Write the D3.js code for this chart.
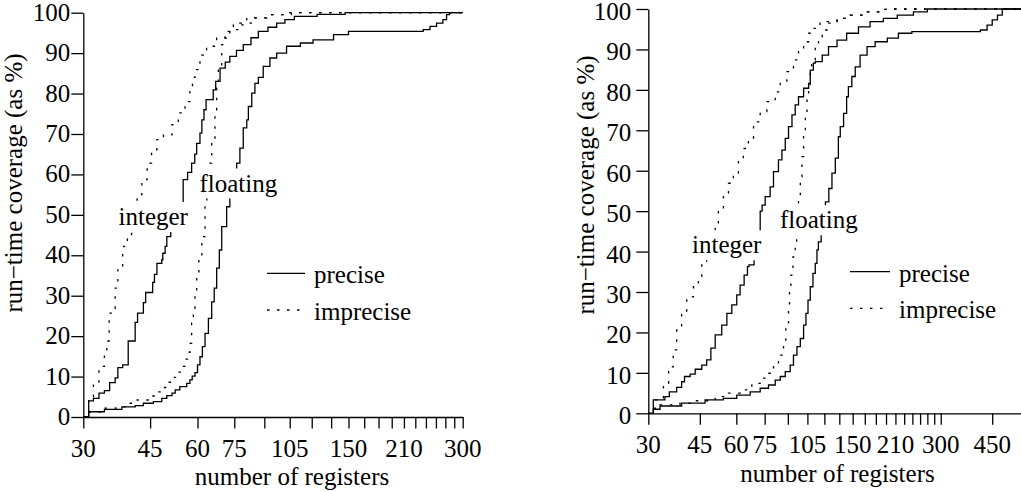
<!DOCTYPE html>
<html>
<head>
<meta charset="utf-8">
<script src="https://cdn.jsdelivr.net/npm/d3@7"></script>
</head>
<body style="margin:0">
<svg id="chart" width="1021" height="492"></svg>
<script>
// tick marks every 15 registers, labels only on some of them
const tickValuesLeft = d3.range(30, 301, 15);
const tickValuesRight = d3.range(30, 301, 15).concat([450]);
const tickLabelsLeft = [30, 45, 60, 75, 105, 150, 210, 300];
const tickLabelsRight = [30, 45, 60, 75, 105, 150, 210, 300, 450];
const yTicks = d3.range(0, 101, 10);

// [registers, run-time coverage %]
const leftIntPrecise = [[30,0],[31,4.0],[31.9,4.6],[33,5.9],[34.1,6.5],[35.2,8.5],[36.4,9.7],[37,12.2],[38.1,12.9],[39.4,18.8],[41.1,23.4],[41.7,25.7],[43.2,28.3],[43.8,30.8],[45.7,33.3],[46.2,35.3],[46.9,38],[48.3,38.9],[48.6,40.5],[49.3,42.2],[49.8,44.6],[51,48],[52.4,52.9],[55,58.7],[56.5,60.5],[57.9,62.8],[59,65],[59.7,67.7],[60.9,70.2],[61.6,73.5],[62.4,76],[63.2,78.5],[66,80.9],[67,83],[68.8,86.3],[71,87.8],[73,89.2],[76,90.7],[79.2,92.1],[83,93.8],[86.8,95.4],[92,96.4],[97,97.4],[102,98.3],[108,99.1],[124,99.6],[147,100],[300,100]];
const leftIntImprecise = [[30,0],[31,5.0],[31.9,8.7],[33,12.5],[34.1,16.6],[34.6,18.8],[35.1,25.7],[36.2,26.9],[36.4,31.9],[37,36.4],[38.1,40.5],[38.3,42.2],[39.2,44.2],[40.2,50],[41.6,55],[42.8,58.7],[44.2,62.8],[45.4,66.1],[46.9,68.6],[48.8,69.8],[51.4,72.3],[53.4,75.2],[55.6,78],[57.3,81.4],[58.2,84],[59.1,85.9],[60.9,88.4],[61.5,89.5],[63.4,91.7],[67.4,93.7],[73,95.8],[77.5,97.4],[84.2,98.7],[91.3,99.5],[103,100],[300,100]];
const leftFloatPrecise = [[30,0],[31,1.3],[34.1,1.9],[37.9,2.5],[41.1,2.8],[43.2,3.4],[45.9,3.8],[48.3,4.6],[49.8,5.3],[51.4,5.9],[52.4,6.7],[53.9,7.5],[56.2,8.3],[57.3,9.2],[58.1,10.1],[59.1,11],[60,12.9],[60.9,14.9],[61.8,17.4],[62.8,20.7],[64.1,24.4],[65.4,28.5],[66.4,31.9],[67.4,36.8],[68.5,41.3],[69.5,47.1],[71.6,52],[73,55],[74.5,59],[76.1,62.8],[77.6,66.5],[79.2,71.5],[80.9,73.5],[81.7,76.8],[83.4,80.1],[85,82.5],[86.8,84],[89.4,86.7],[93.1,88.8],[97,90],[103,91.7],[112,92.5],[121,93.3],[137,94.6],[150,95.4],[236,95.8],[246,96.6],[256,97.4],[266,98.3],[272,99.5],[277,100],[300,100]];
const leftFloatImprecise = [[30,0],[31,1.2],[33.2,2.2],[37.2,2.5],[39.2,3.4],[41.6,4.2],[45,5.2],[46.8,6.2],[48.5,7.3],[50.2,8.6],[51.8,9.8],[53.2,11.1],[54.5,12.5],[55.7,14.3],[56.5,16],[57.3,18.2],[57.9,23.2],[58.5,26.9],[59.1,30.6],[59.7,34.7],[60.5,38.9],[61.6,44.6],[62.8,52.9],[63.5,58],[64.1,62.8],[65.4,69],[66.7,76],[67.4,81.4],[68.1,86.7],[69.5,92.1],[70.9,95.4],[74.6,97],[80.9,98.7],[91.3,99.5],[106,100],[300,100]];

const rightIntPrecise = [[30,0],[31.2,3.3],[34.2,4.1],[35.4,5.3],[37.5,6.4],[39,7.8],[39.9,9.1],[41.7,9.7],[43.4,10.9],[45.7,11.9],[47.5,13.2],[49.1,16.1],[50.8,19.4],[53.5,21.8],[55.7,24.7],[57.9,26.8],[60.2,29.3],[61.8,31.7],[63.8,34.2],[65.5,36.3],[66.3,36.7],[69,40.5],[72.4,50],[73.5,51.5],[75.3,53.6],[78.3,56],[80.4,59.8],[83.6,62.7],[85.9,65.1],[88.2,68],[90.5,70.9],[93,73.8],[95.4,76.3],[97.9,78.3],[101.9,80.4],[106,81.6],[107.4,84.9],[110,86.6],[111.7,87],[118,88.6],[124,90.7],[132.6,92.3],[143,94],[157,95.6],[172,96.9],[191,97.7],[213,98.5],[242,99.3],[270,100],[600,100]];
const rightIntImprecise = [[30,0],[31.6,3.3],[33.8,7.4],[35.2,11.5],[36.5,15.7],[37.5,20.6],[39,24.7],[40.6,28.8],[42.8,31.3],[44.5,33.8],[45.7,36.7],[47.5,40],[49,43],[50.8,46.2],[52.1,50.3],[54.2,53.6],[56.4,56.9],[58.6,59.4],[61,62.7],[63.4,65.5],[66,68],[68.7,72.1],[72.4,74.6],[76.3,77.1],[81.5,79.5],[84.8,81.6],[89.3,84.5],[94.1,87.4],[97.9,89.9],[101.9,91.9],[106,94],[110,95.2],[116,96.5],[122.6,96.9],[132.6,97.7],[143,98.5],[163,99.3],[187,99.9],[200,100],[600,100]];
const rightFloatPrecise = [[30,0],[31.2,1.0],[32.9,1.8],[39,2.5],[46.9,3.3],[54.2,3.7],[60.2,4.5],[66.9,5.3],[72.4,6.2],[77.3,7.0],[81.5,8.2],[84.8,9.1],[88.2,10.3],[91.7,11.9],[94.1,14.4],[96.7,16.5],[99.3,18.5],[101.9,21.8],[103.8,24.7],[105.5,28],[107.4,31.3],[109.7,34.6],[111.7,37.1],[113.2,40.4],[114.5,42.4],[117,46],[119,49],[121,52.3],[124.3,55.6],[127.4,59.4],[130.8,63.1],[134,68.4],[136,70.9],[139.6,74.2],[143,78.3],[145,80.8],[149,83.3],[153,85.7],[159,88.6],[168,90.7],[179,91.9],[197,92.8],[215,94],[239,94.4],[410,94.8],[432,96],[450,97.3],[469,98.5],[487,100],[600,100]];
const rightFloatImprecise = [[30,0],[31.2,1.2],[32.9,2.1],[38.5,2.5],[43.5,3.1],[50.8,4.1],[56.4,5.0],[61.8,5.8],[67.8,7.4],[72.4,8.7],[76.3,9.9],[80.4,11.9],[83.6,14.4],[87,18.1],[88.6,21.8],[90.5,26.4],[91.2,30.5],[92.2,34.2],[93.7,38.7],[95.4,42.4],[96.5,47],[97.9,52.8],[99.3,58.5],[100.6,63.5],[101.9,68.8],[103.3,73],[104.7,77.5],[106,80.8],[107.4,84.9],[108.5,87.4],[111.7,90.7],[114.6,93.1],[118,94.8],[122.6,96.5],[132.6,97.7],[147,98.5],[163,99.3],[187,99.9],[200,100],[600,100]];

const legendNames = ['precise', 'imprecise'];
const xTitle = 'number of registers';
const yTitle = 'run\u2212time coverage (as %)';

const fontSize = 25;
const dots = '2.5,7.5';

const svg = d3.select('#chart');
svg.append('rect').attr('width', 1021).attr('height', 492).attr('fill', '#fff');

// every text goes straight onto the svg, with one family name set as a style
function label(str, x, y, anchor) {
  return svg.append('text')
    .style('font-family', "'Liberation Serif'")
    .style('font-size', fontSize + 'px')
    .attr('x', x)
    .attr('y', y)
    .attr('text-anchor', anchor || 'start')
    .text(str);
}

function drawPanel(p) {
  const x = d3.scaleLog().domain([30, p.xMax]).range([p.left, p.right]);
  const y = d3.scaleLinear().domain([0, 100]).range([p.bottom, p.top]);
  const g = svg.append('g');

  // step curves
  const line = d3.line()
    .x((d) => x(d[0]))
    .y((d) => y(d[1]))
    .curve(d3.curveStepAfter);
  p.series.forEach((s) => {
    g.append('path')
      .datum(s.data)
      .attr('d', line)
      .attr('fill', 'none')
      .attr('stroke', '#000')
      .attr('stroke-width', 1.3)
      .attr('stroke-dasharray', s.dashed ? dots : null);
  });

  // white boxes behind the in-plot labels (width in em)
  p.labels.forEach((l) => {
    g.append('rect')
      .attr('x', l.x - 5)
      .attr('y', l.y - 0.92 * fontSize)
      .attr('width', l.em * fontSize + 10)
      .attr('height', 1.2 * fontSize)
      .attr('fill', '#fff');
  });

  // axes: lines and ticks from d3, their texts drawn separately
  const gx = g.append('g')
    .attr('transform', `translate(0,${p.bottom})`)
    .call(d3.axisBottom(x).tickValues(p.ticks).tickSize(11.5).tickSizeOuter(0));
  const gy = g.append('g')
    .attr('transform', `translate(${p.left},0)`)
    .call(d3.axisLeft(y).tickValues(yTicks).tickSize(12).tickSizeOuter(0));
  [gx, gy].forEach((a) => {
    a.selectAll('text').remove();
    a.selectAll('line, path').attr('stroke', '#000').attr('stroke-width', 1.3);
  });

  p.tickLabels.forEach((d) => label(d, x(d), p.bottom + p.xLabelDy, 'middle'));
  yTicks.forEach((d) => label(d, p.left - 12 - p.yPad, y(d) + 0.32 * fontSize + p.yShift, 'end'));

  p.labels.forEach((l) => label(l.text, l.x, l.y));

  // titles
  label(xTitle, p.xTitleX, p.xTitleY, 'middle');
  label(yTitle, 0, 0, 'middle')
    .attr('transform', `translate(${p.yTitleX},${p.yTitleY}) rotate(-90)`);

  // legend
  legendNames.forEach((name, i) => {
    const ly = p.legendY[i];
    g.append('line')
      .attr('x1', p.legendX)
      .attr('x2', p.legendX + p.legendLen)
      .attr('y1', ly)
      .attr('y2', ly)
      .attr('stroke', '#000')
      .attr('stroke-width', 1.3)
      .attr('stroke-dasharray', i === 1 ? dots : null);
    label(name, p.legendX + p.legendLen + 9, ly + 10);
  });
}

drawPanel({
  left: 83.3, right: 462.7, top: 12.7, bottom: 417, xMax: 300, yPad: 1, yShift: 0, xLabelDy: 40,
  ticks: tickValuesLeft, tickLabels: tickLabelsLeft,
  series: [
    { data: leftIntPrecise, dashed: false },
    { data: leftIntImprecise, dashed: true },
    { data: leftFloatPrecise, dashed: false },
    { data: leftFloatImprecise, dashed: true },
  ],
  labels: [
    { text: 'integer', em: 2.78, x: 118.5, y: 225 },
    { text: 'floating', em: 3.11, x: 199.5, y: 191.5 },
  ],
  xTitleX: 292, xTitleY: 485,
  yTitleX: 22, yTitleY: 183,
  legendX: 267, legendLen: 38, legendY: [273.3, 310],
});

drawPanel({
  left: 648.3, right: 648.3 + 127 * Math.log(20), top: 9, bottom: 413.3, xMax: 600, yPad: 5, yShift: 3, xLabelDy: 40,
  ticks: tickValuesRight, tickLabels: tickLabelsRight,
  series: [
    { data: rightIntPrecise, dashed: false },
    { data: rightIntImprecise, dashed: true },
    { data: rightFloatPrecise, dashed: false },
    { data: rightFloatImprecise, dashed: true },
  ],
  labels: [
    { text: 'integer', em: 2.78, x: 692, y: 253.3 },
    { text: 'floating', em: 3.11, x: 780, y: 228.3 },
  ],
  xTitleX: 837.5, xTitleY: 482,
  yTitleX: 594, yTitleY: 185,
  legendX: 850, legendLen: 40, legendY: [271.7, 308.3],
});
</script>
</body>
</html>
